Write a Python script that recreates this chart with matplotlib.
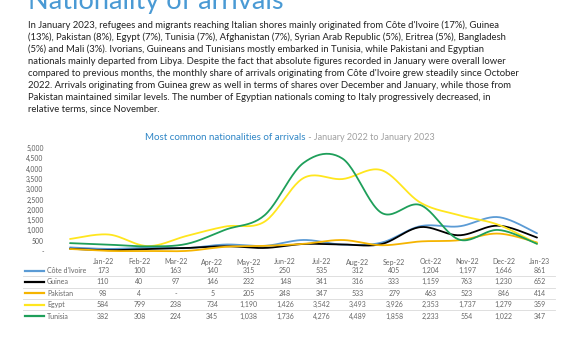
import numpy as np
import matplotlib
matplotlib.use("Agg")
import matplotlib.pyplot as plt
from matplotlib.lines import Line2D

plt.rcParams["font.family"] = ["Lato", "DejaVu Sans"]

months = ["Jan-22", "Feb-22", "Mar-22", "Apr-22", "May-22", "Jun-22", "Jul-22",
          "Aug-22", "Sep-22", "Oct-22", "Nov-22", "Dec-22", "Jan-23"]
nationalities = ["Côte d'Ivoire", "Guinea", "Pakistan", "Egypt", "Tunisia"]
cote_divoire = [173, 100, 163, 140, 315, 250, 535, 312, 405, 1204, 1197, 1646, 861]
guinea = [110, 40, 97, 146, 232, 148, 341, 316, 333, 1159, 763, 1230, 652]
pakistan = [98, 4, 0, 5, 205, 248, 347, 533, 279, 463, 523, 846, 414]
egypt = [584, 799, 238, 734, 1190, 1426, 3542, 3493, 3926, 2353, 1737, 1279, 359]
tunisia = [382, 308, 224, 345, 1038, 1736, 4276, 4489, 1858, 2233, 554, 1022, 347]
series = [cote_divoire, guinea, pakistan, egypt, tunisia]
colors = ["#5B9BD5", "#000000", "#F5B400", "#FFE61E", "#1E9F5A"]

paragraph = [
    "In January 2023, refugees and migrants reaching Italian shores mainly originated from Côte d'Ivoire (17%), Guinea",
    "(13%), Pakistan (8%), Egypt (7%), Tunisia (7%), Afghanistan (7%), Syrian Arab Republic (5%), Eritrea (5%), Bangladesh",
    "(5%) and Mali (3%). Ivorians, Guineans and Tunisians mostly embarked in Tunisia, while Pakistani and Egyptian",
    "nationals mainly departed from Libya. Despite the fact that absolute figures recorded in January were overall lower",
    "compared to previous months, the monthly share of arrivals originating from Côte d'Ivoire grew steadily since October",
    "2022. Arrivals originating from Guinea grew as well in terms of shares over December and January, while those from",
    "Pakistan maintained similar levels. The number of Egyptian nationals coming to Italy progressively decreased, in",
    "relative terms, since November.",
]

W, H = 577, 348


def fx(px):
    return px / W


def fy(py):
    return 1 - py / H


def smooth(y, n=24):
    # Catmull-Rom spline through the points, like Excel smoothed lines
    y = np.asarray(y, dtype=float)
    x = np.arange(len(y), dtype=float)
    px = np.concatenate([[x[0]], x, [x[-1]]])
    py = np.concatenate([[y[0]], y, [y[-1]]])
    xs, ys = [], []
    t = np.linspace(0, 1, n, endpoint=False)
    for i in range(1, len(px) - 2):
        for p, out in ((px, xs), (py, ys)):
            p0, p1, p2, p3 = p[i - 1], p[i], p[i + 1], p[i + 2]
            m1 = (p2 - p0) / 2
            m2 = (p3 - p1) / 2
            h00 = 2 * t**3 - 3 * t**2 + 1
            h10 = t**3 - 2 * t**2 + t
            h01 = -2 * t**3 + 3 * t**2
            h11 = t**3 - t**2
            out.extend(h00 * p1 + h10 * m1 + h01 * p2 + h11 * m2)
    xs.append(x[-1])
    ys.append(y[-1])
    return np.array(xs), np.array(ys)


fig = plt.figure(figsize=(W / 100, H / 100), dpi=100)

# title (cut at top like the reference)
fig.text(fx(28), fy(9), "Nationality of arrivals", fontsize=19.5, color="#4A9AD4",
         va="baseline", ha="left")

for i, line in enumerate(paragraph):
    fig.text(fx(28), fy(25 + 12 * i), line, fontsize=6.8, color="#222222",
             va="center", ha="left")

# chart subtitle
t1 = fig.text(fx(145), fy(137), "Most common nationalities of arrivals", fontsize=7.05,
              color="#2F86C6", va="center", ha="left")
fig.canvas.draw()
bb = t1.get_window_extent()
fig.text(bb.x1 / fig.dpi / fig.get_figwidth(), fy(137), " - January 2022 to January 2023",
         fontsize=6.5, color="#A0A0A0", va="center", ha="left")

# line chart
ax = fig.add_axes([fx(70), fy(251), fx(537) - fx(70), (251 - 148) / H])
for vals, c in zip(series, colors):
    xs, ys = smooth(vals)
    ax.plot(xs, ys, color=c, lw=1.3, clip_on=False, solid_capstyle="round")
ax.set_xlim(0, len(months) - 1)
ax.set_ylim(0, 5000)
ticks = np.arange(0, 5001, 500)
ax.set_yticks(ticks)
ax.set_yticklabels(["-" if v == 0 else f"{v:,}" for v in ticks], fontsize=4.9,
                   color="#595959")
ax.tick_params(axis="y", length=0, pad=19)
ax.set_xticks([])
for s in ax.spines.values():
    s.set_visible(False)
ax.patch.set_alpha(0)

# data table
col_x = [103 + 36.4 * i for i in range(len(months))]
for x, m in zip(col_x, months):
    fig.text(fx(x), fy(262), m, fontsize=5.0, color="#666666", ha="center", va="center")
row_y = [270.5 + 11.4 * i for i in range(len(nationalities))]
for r, (name, vals, c) in enumerate(zip(nationalities, series, colors)):
    y = row_y[r]
    fig.add_artist(Line2D([fx(25), fx(44)], [fy(y), fy(y)], color=c, lw=1.6))
    fig.text(fx(47), fy(y), name, fontsize=5.0, color="#666666", ha="left", va="center")
    for x, v in zip(col_x, vals):
        label = "-" if v == 0 else f"{v:,}"
        fig.text(fx(x), fy(y), label, fontsize=5.0, color="#666666", ha="center",
                 va="center")
    if r < len(nationalities) - 1:
        ly = y + 5.7
        fig.add_artist(Line2D([fx(23), fx(555)], [fy(ly), fy(ly)], color="#D9D9D9",
                              lw=0.6))

fig.savefig("out.png", dpi=100)
